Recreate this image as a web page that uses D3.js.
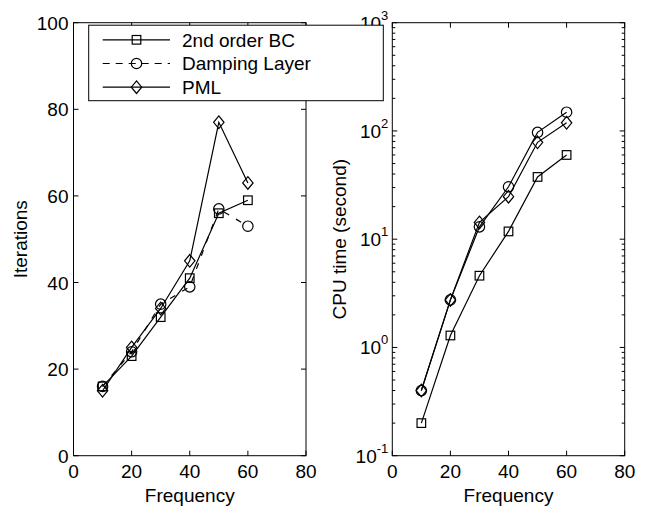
<!DOCTYPE html>
<html><head><meta charset="utf-8">
<script src="https://cdn.jsdelivr.net/npm/d3@7"></script>
<style>body{margin:0;background:#fff}svg{display:block}text{font-family:"Liberation Sans",Arial,Helvetica,sans-serif;fill:#000}</style>
</head><body>
<svg id="c" width="646" height="507"></svg>
<script>
const freqs = [10, 20, 30, 40, 50, 60];
const seriesNames = ["2nd order BC", "Damping Layer", "PML"];
const iterBC  = [16, 23, 32, 41, 56, 59];
const iterDL  = [16, 24, 35, 39, 57, 53];
const iterPML = [15, 25, 34, 45, 77, 63];
const cpuBC  = [0.2, 1.29, 4.6, 11.8, 37.6, 60];
const cpuDL  = [0.4, 2.75, 13.0, 30.5, 97, 149];
const cpuPML = [0.4, 2.75, 14.3, 24.7, 78.5, 119];
const xTicks = [0, 20, 40, 60, 80];
const iterTicks = [0, 20, 40, 60, 80, 100];
const cpuExps = [-1, 0, 1, 2, 3];
const markers = ["square", "circle", "diamond"];

const svg = d3.select("#c");
const FS = 19;

function drawMarker(g, type, x, y) {
  if (type === "square") {
    g.append("rect").attr("x", x - 4.3).attr("y", y - 4.3).attr("width", 8.6).attr("height", 8.6)
      .attr("fill", "none").attr("stroke", "#000").attr("stroke-width", 1.2);
  } else if (type === "circle") {
    g.append("circle").attr("cx", x).attr("cy", y).attr("r", 5.2)
      .attr("fill", "none").attr("stroke", "#000").attr("stroke-width", 1.2);
  } else {
    g.append("path").attr("d", `M${x},${y-6.3}L${x+5.2},${y}L${x},${y+6.3}L${x-5.2},${y}Z`)
      .attr("fill", "none").attr("stroke", "#000").attr("stroke-width", 1.2);
  }
}

function panel(opts) {
  const {x0, x1, y0, y1, yScale, yTickVals, yLabel, series, dashes, log} = opts;
  const xs = d3.scaleLinear().domain([0, 80]).range([x0, x1]);
  const ys = yScale.range([y1, y0]);
  const g = svg.append("g");
  series.forEach((vals, i) => {
    const line = d3.line().x((d, k) => xs(freqs[k])).y(d => ys(d));
    g.append("path").attr("d", line(vals)).attr("fill", "none").attr("stroke", "#000")
      .attr("stroke-width", 1.2).attr("stroke-dasharray", dashes[i] || null);
    vals.forEach((v, k) => drawMarker(g, markers[i], xs(freqs[k]), ys(v)));
  });
  g.append("rect").attr("x", x0).attr("y", y0).attr("width", x1 - x0).attr("height", y1 - y0)
    .attr("fill", "none").attr("stroke", "#000").attr("stroke-width", 1);
  const tl = 5;
  xTicks.forEach(t => {
    const x = xs(t);
    g.append("line").attr("x1", x).attr("x2", x).attr("y1", y1).attr("y2", y1 - tl).attr("stroke", "#000");
    g.append("line").attr("x1", x).attr("x2", x).attr("y1", y0).attr("y2", y0 + tl).attr("stroke", "#000");
    g.append("text").attr("x", x).attr("y", y1 + 22).attr("text-anchor", "middle")
      .attr("font-size", FS).text(t);
  });
  g.append("text").attr("x", (x0 + x1) / 2).attr("y", y1 + 46).attr("text-anchor", "middle")
    .attr("font-size", FS).text("Frequency");
  yTickVals.forEach(t => {
    const y = ys(log ? Math.pow(10, t) : t);
    g.append("line").attr("x1", x0).attr("x2", x0 + tl).attr("y1", y).attr("y2", y).attr("stroke", "#000");
    g.append("line").attr("x1", x1).attr("x2", x1 - tl).attr("y1", y).attr("y2", y).attr("stroke", "#000");
    if (log) {
      const tx = g.append("text").attr("x", x0 - 4).attr("y", y + 7).attr("text-anchor", "end").attr("font-size", FS);
      tx.append("tspan").text("10");
      tx.append("tspan").attr("dy", -10).attr("font-size", 13).text(t);
    } else {
      g.append("text").attr("x", x0 - 5).attr("y", y + 7).attr("text-anchor", "end")
        .attr("font-size", FS).text(t);
    }
  });
  if (log) {
    for (let e = -1; e < 3; e++) {
      for (let m = 2; m <= 9; m++) {
        const y = ys(m * Math.pow(10, e));
        g.append("line").attr("x1", x0).attr("x2", x0 + 3).attr("y1", y).attr("y2", y).attr("stroke", "#000");
        g.append("line").attr("x1", x1).attr("x2", x1 - 3).attr("y1", y).attr("y2", y).attr("stroke", "#000");
      }
    }
  }
  g.append("text").attr("transform", `translate(${log ? x0 - 46 : x0 - 47},${(y0 + y1) / 2}) rotate(-90)`)
    .attr("text-anchor", "middle").attr("font-size", FS).text(yLabel);
}

panel({x0: 73.5, x1: 306, y0: 22.7, y1: 455.7, yScale: d3.scaleLinear().domain([0, 100]),
  yTickVals: iterTicks, yLabel: "Iterations", series: [iterBC, iterDL, iterPML],
  dashes: [null, "6,8", null], log: false});
panel({x0: 392.3, x1: 624.7, y0: 22.7, y1: 455.7, yScale: d3.scaleLog().domain([0.1, 1000]),
  yTickVals: cpuExps, yLabel: "CPU time (second)", series: [cpuBC, cpuDL, cpuPML],
  dashes: [null, null, null], log: true});

const lg = svg.append("g");
lg.append("rect").attr("x", 88.7).attr("y", 25.2).attr("width", 294.6).attr("height", 75.5)
  .attr("fill", "#fff").attr("stroke", "#000").attr("stroke-width", 1);
const legendDash = [null, "7,6", null];
seriesNames.forEach((name, i) => {
  const y = 39.8 + i * 23.7;
  lg.append("line").attr("x1", 102.7).attr("x2", 170).attr("y1", y).attr("y2", y)
    .attr("stroke", "#000").attr("stroke-width", 1.2).attr("stroke-dasharray", legendDash[i]);
  drawMarker(lg, markers[i], 136.5, y);
  lg.append("text").attr("x", 182).attr("y", y + 6.8).attr("font-size", FS).text(name);
});
</script>
</body></html>
